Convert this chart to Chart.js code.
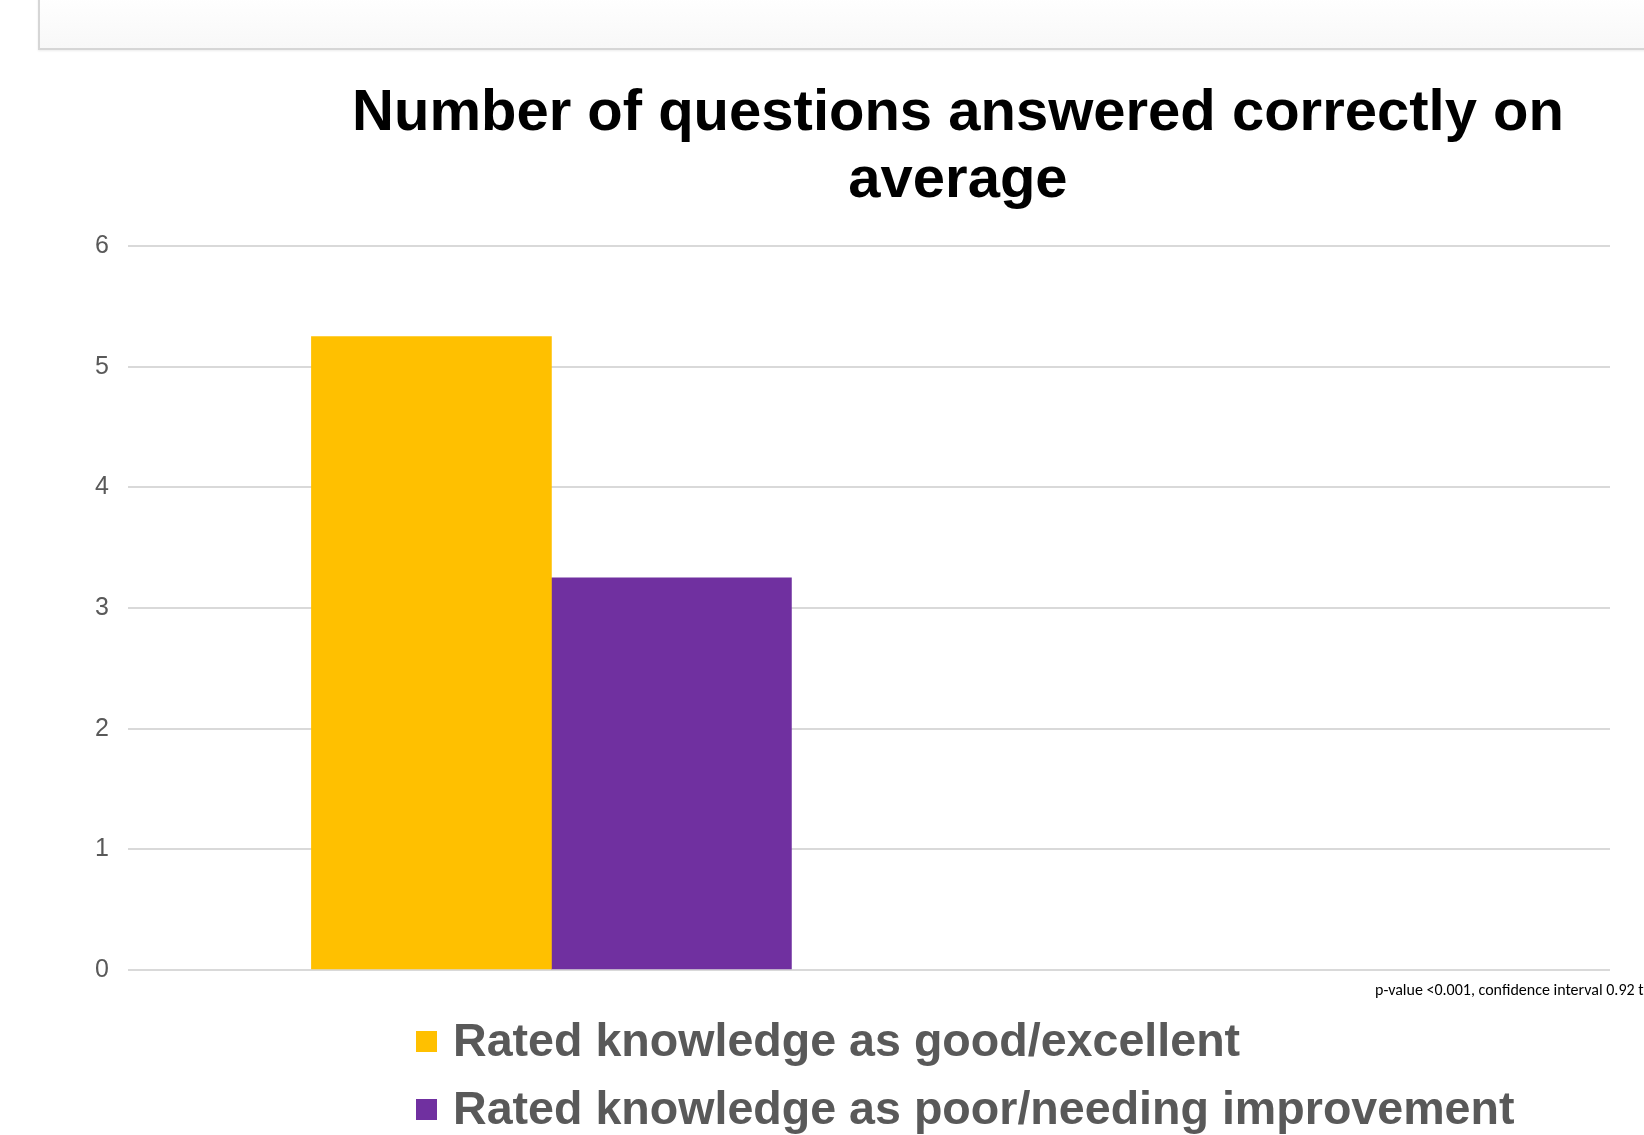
<!DOCTYPE html>
<html>
<head>
<meta charset="utf-8">
<script src="https://cdn.jsdelivr.net/npm/chart.js@4/dist/chart.umd.min.js"></script>
<style>
  html, body { margin:0; padding:0; background:#fff; }
  body { width:1644px; height:1135px; overflow:hidden; position:relative; font-family:"Liberation Sans", Arial, sans-serif; }
  #topbox { position:absolute; left:38px; top:-4px; width:1640px; height:52px;
            border-left:2px solid #d6d6d6; border-bottom:2px solid #d6d6d6;
            background:linear-gradient(#ffffff, #f8f8f8); box-shadow:0 1px 2px rgba(0,0,0,0.08); }
  #chart { position:absolute; left:0; top:0; }
  #title { position:absolute; left:258px; width:1400px; top:76px; text-align:center;
           font-weight:bold; font-size:58px; line-height:67px; color:#000; }
  #note { position:absolute; left:1375px; top:980px; font-family:Carlito, Lato, sans-serif;
          font-size:16px; line-height:19px; white-space:nowrap; color:#000; }
  .legsq { position:absolute; left:416px; width:21px; height:21px; }
  .legtx { position:absolute; left:453px; font-weight:bold; font-size:46.6px; line-height:52px;
           color:#595959; white-space:nowrap; }
</style>
</head>
<body>
<div id="topbox"></div>
<canvas id="chart" width="1644" height="1135"></canvas>
<div id="title">Number of questions answered correctly on<br>average</div>
<div id="note">p-value &lt;0.001, confidence interval 0.92 t</div>
<div id="legend"></div>
<script>
// ---- data ----
const seriesNames = ['Rated knowledge as good/excellent', 'Rated knowledge as poor/needing improvement'];
const seriesColors = ['#FFC000', '#7030A0'];
const categoryPositions = [0.5];          // centre of the (only visible) category slot
const goodExcellent = [5.25];
const poorNeedingImprovement = [3.25];
const yTicks = [0, 1, 2, 3, 4, 5, 6];

const seriesValues = [goodExcellent, poorNeedingImprovement];

// ---- legend (HTML, built from the series arrays) ----
const legend = document.getElementById('legend');
seriesNames.forEach((name, i) => {
  const sq = document.createElement('div');
  sq.className = 'legsq';
  sq.style.top = (1031 + 68 * i) + 'px';
  sq.style.background = seriesColors[i];
  legend.appendChild(sq);
  const tx = document.createElement('div');
  tx.className = 'legtx';
  tx.style.top = (1014 + 68 * i) + 'px';
  tx.textContent = name;
  legend.appendChild(tx);
});

// ---- chart ----
new Chart(document.getElementById('chart').getContext('2d'), {
  type: 'bar',
  data: {
    datasets: seriesNames.map((name, i) => ({
      label: name,
      data: categoryPositions.map((x, k) => ({ x: x, y: seriesValues[i][k] })),
      backgroundColor: seriesColors[i],
      borderWidth: 0,
      barThickness: 240
    }))
  },
  options: {
    responsive: false,
    animation: false,
    devicePixelRatio: 1,
    layout: { padding: { top: 246, bottom: 165, left: 0, right: 34 } },
    plugins: { legend: { display: false }, title: { display: false }, tooltip: { enabled: false } },
    scales: {
      x: { type: 'linear', min: 0, max: 1.75, offset: false, display: false, grid: { display: false } },
      y: {
        min: 0, max: 6,
        afterBuildTicks: s => { s.ticks = yTicks.map(v => ({ value: v })); },
        afterFit: s => { s.width = 128; },
        ticks: { padding: 19, color: '#595959', font: { family: 'Liberation Sans', size: 25 } },
        grid: { color: '#d9d9d9', lineWidth: 2, drawTicks: false },
        border: { display: false }
      }
    }
  }
});
</script>
</body>
</html>
